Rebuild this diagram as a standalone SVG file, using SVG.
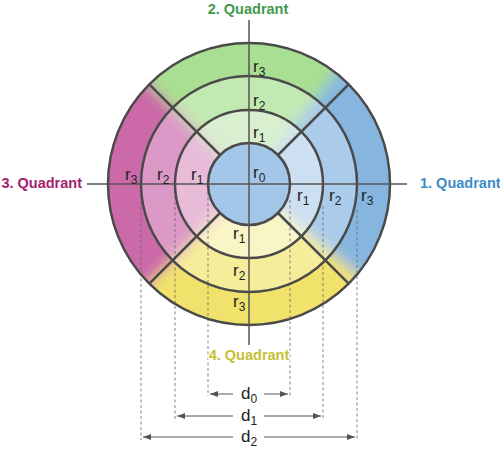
<svg xmlns="http://www.w3.org/2000/svg" xmlns:xlink="http://www.w3.org/1999/xlink" width="500" height="450" viewBox="0 0 500 450">
<style>
.ring{fill:none;stroke:#4a4a4a;stroke-width:2.5}
.div{stroke:#4a4a4a;stroke-width:2.5}
.axis{stroke:#555;stroke-width:1.5}
.dash{stroke:#666;stroke-width:1;stroke-dasharray:3 2.5;opacity:0.8}
.dim{stroke:#555;stroke-width:1}
.lbl{font-family:"Liberation Sans",Arial,sans-serif;font-size:17px;fill:#222}
.sub{font-size:12px}
.q{font-family:"Liberation Sans",Arial,sans-serif;font-size:14.5px;font-weight:bold}
</style>
<defs>
<filter id="soft" x="-30%" y="-30%" width="160%" height="160%"><feGaussianBlur stdDeviation="7"/></filter>
<clipPath id="c3"><circle cx="249" cy="184" r="141"/></clipPath>
<clipPath id="c2"><circle cx="249" cy="184" r="108"/></clipPath>
<clipPath id="c1"><circle cx="249" cy="184" r="74"/></clipPath>
<path id="wB" d="M249 184 L403 -13 L441 345 Z"/>
<path id="wG" d="M249 184 L72 7 L403 -13 Z"/>
<path id="wP" d="M249 184 L72 361 L72 7 Z"/>
<path id="wY" d="M249 184 L441 345 L72 361 Z"/>
<marker id="arr" viewBox="0 0 8 6" refX="8" refY="3" markerWidth="8" markerHeight="6" orient="auto-start-reverse" markerUnits="userSpaceOnUse"><path d="M0 0 L8 3 L0 6 Z" fill="#555"/></marker>
</defs>

<g id="fills">
<g clip-path="url(#c3)"><g filter="url(#soft)">
<use xlink:href="#wB" fill="#86b6df"/><use xlink:href="#wG" fill="#a9df92"/><use xlink:href="#wP" fill="#cc69a9"/><use xlink:href="#wY" fill="#f1e26c"/>
</g></g>
<g clip-path="url(#c2)"><g filter="url(#soft)">
<use xlink:href="#wB" fill="#abcbea"/><use xlink:href="#wG" fill="#c3e9b3"/><use xlink:href="#wP" fill="#dc98c6"/><use xlink:href="#wY" fill="#f6ed9a"/>
</g></g>
<g clip-path="url(#c1)"><g filter="url(#soft)">
<use xlink:href="#wB" fill="#cddff2"/><use xlink:href="#wG" fill="#d8f0cf"/><use xlink:href="#wP" fill="#e8bcd9"/><use xlink:href="#wY" fill="#faf5c6"/>
</g></g>
</g>

<g id="dashes">
<line class="dash" x1="208" y1="192" x2="208" y2="396"/>
<line class="dash" x1="290" y1="200" x2="290" y2="396"/>
<line class="dash" x1="175" y1="196" x2="175" y2="420"/>
<line class="dash" x1="323" y1="206" x2="323" y2="420"/>
<line class="dash" x1="141" y1="196" x2="141" y2="440"/>
<line class="dash" x1="357" y1="210" x2="357" y2="440"/>
</g>

<g id="center">
<circle cx="249" cy="184" r="41" fill="#a3c6e9" stroke="#4a4a4a" stroke-width="2.5"/>
</g>

<g id="rings">
<circle class="ring" cx="249" cy="184" r="74"/>
<circle class="ring" cx="249" cy="184" r="108"/>
<circle class="ring" cx="249" cy="184" r="141"/>
</g>

<g id="dividers">
<line class="div" x1="278" y1="155" x2="348.7" y2="84.3"/>
<line class="div" x1="220" y1="155" x2="149.3" y2="84.3"/>
<line class="div" x1="220" y1="213" x2="149.3" y2="283.7"/>
<line class="div" x1="278" y1="213" x2="348.7" y2="283.7"/>
</g>

<g id="axes">
<line class="axis" x1="249" y1="20" x2="249" y2="345"/>
<line class="axis" x1="87" y1="184" x2="407" y2="184"/>
</g>

<g id="ring-labels">
<text class="lbl" x="253" y="178">r<tspan class="sub" dy="4">0</tspan></text>
<text class="lbl" x="253" y="138">r<tspan class="sub" dy="4">1</tspan></text>
<text class="lbl" x="253" y="106">r<tspan class="sub" dy="4">2</tspan></text>
<text class="lbl" x="253" y="72">r<tspan class="sub" dy="4">3</tspan></text>
<text class="lbl" x="191" y="180">r<tspan class="sub" dy="4">1</tspan></text>
<text class="lbl" x="157" y="180">r<tspan class="sub" dy="4">2</tspan></text>
<text class="lbl" x="125" y="180">r<tspan class="sub" dy="4">3</tspan></text>
<text class="lbl" x="297" y="201">r<tspan class="sub" dy="4">1</tspan></text>
<text class="lbl" x="329" y="201">r<tspan class="sub" dy="4">2</tspan></text>
<text class="lbl" x="361" y="201">r<tspan class="sub" dy="4">3</tspan></text>
<text class="lbl" x="233" y="239">r<tspan class="sub" dy="4">1</tspan></text>
<text class="lbl" x="233" y="276">r<tspan class="sub" dy="4">2</tspan></text>
<text class="lbl" x="233" y="307">r<tspan class="sub" dy="4">3</tspan></text>
</g>

<g id="quadrant-labels">
<text class="q" x="248" y="14" text-anchor="middle" fill="#3f9a4f">2. Quadrant</text>
<text class="q" x="82" y="188" text-anchor="end" fill="#a3216f">3. Quadrant</text>
<text class="q" x="420" y="188" fill="#3d8cc4">1. Quadrant</text>
<text class="q" x="249" y="360" text-anchor="middle" fill="#c6c035" stroke="#fff" stroke-width="3" paint-order="stroke" stroke-linejoin="round">4. Quadrant</text>
</g>

<g id="dimensions">
<line class="dim" x1="233" y1="394" x2="210" y2="394" marker-end="url(#arr)"/>
<line class="dim" x1="264" y1="394" x2="288" y2="394" marker-end="url(#arr)"/>
<line class="dim" x1="233" y1="416" x2="177" y2="416" marker-end="url(#arr)"/>
<line class="dim" x1="264" y1="416" x2="321" y2="416" marker-end="url(#arr)"/>
<line class="dim" x1="233" y1="437" x2="143" y2="437" marker-end="url(#arr)"/>
<line class="dim" x1="264" y1="437" x2="355" y2="437" marker-end="url(#arr)"/>
<text class="lbl" x="249" y="399" text-anchor="middle">d<tspan class="sub" dy="4">0</tspan></text>
<text class="lbl" x="249" y="421" text-anchor="middle">d<tspan class="sub" dy="4">1</tspan></text>
<text class="lbl" x="249" y="442" text-anchor="middle">d<tspan class="sub" dy="4">2</tspan></text>
</g>
</svg>
